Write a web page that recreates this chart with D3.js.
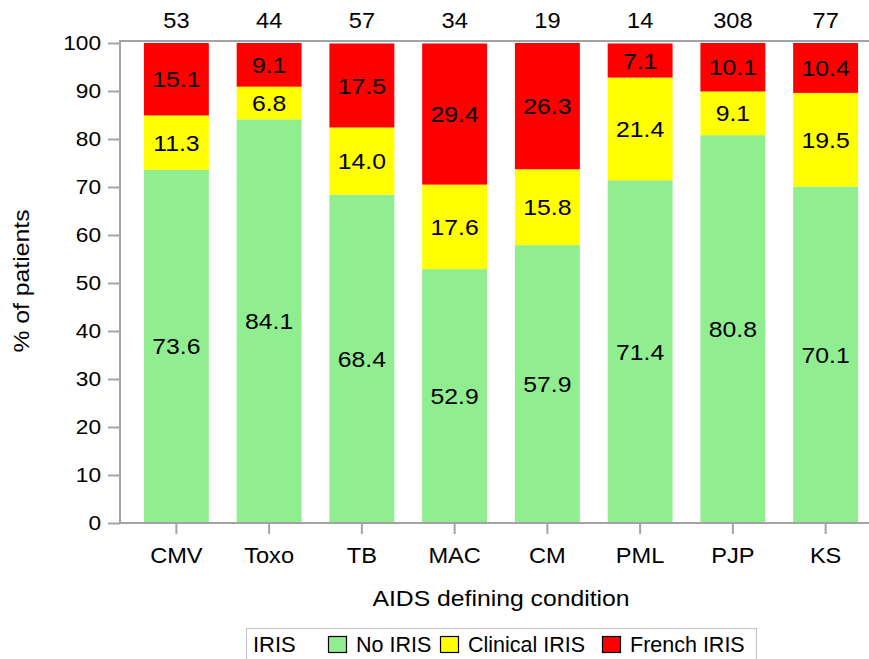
<!DOCTYPE html>
<meta charset="utf-8">
<style>
body { margin: 0; background: #fff; }
text { font-family: Arial, "Liberation Sans", sans-serif; fill: #000; }
</style>
<svg width="869" height="659"></svg>
<script src="https://d3js.org/d3.v7.min.js"></script>
<script>
// AIDS defining conditions, patient counts and IRIS percentages
var conditions = ["CMV", "Toxo", "TB", "MAC", "CM", "PML", "PJP", "KS"]
var patientCounts = [53, 44, 57, 34, 19, 14, 308, 77]
var noIris = [73.6, 84.1, 68.4, 52.9, 57.9, 71.4, 80.8, 70.1]
var clinicalIris = [11.3, 6.8, 14.0, 17.6, 15.8, 21.4, 9.1, 19.5]
var frenchIris = [15.1, 9.1, 17.5, 29.4, 26.3, 7.1, 10.1, 10.4]
var seriesNames = ["No IRIS", "Clinical IRIS", "French IRIS"]
var seriesColours = ["#90ee90", "#ffff00", "#ff0000"]
var yTicks = [0, 10, 20, 30, 40, 50, 60, 70, 80, 90, 100]

const svg = d3.select('svg')
const axisGrey = '#a3a3a3'
const fontStack = 'Arial, "Liberation Sans", sans-serif'

// the original font is a bit wider than Arial: widen glyphs around their anchor
function stretch(sel, sx, extra) {
	sel.each(function () {
		var t = d3.select(this)
		var tx = +t.attr('x') || 0
		var ty = +t.attr('y') || 0
		t.attr('x', 0).attr('y', 0)
		 .attr('transform', 'translate(' + tx + ',' + ty + ')' + (extra || '') + ' scale(' + sx + ',1)')
	})
}

const x = d3.scaleBand()
	.domain(conditions)
	.range([130, 872])
	.paddingInner(0.3)
	.paddingOuter(0.15)

const y = d3.scaleLinear()
	.domain([0, 100])
	.range([523, 43])

const rows = conditions.map((c, i) => ({
	cond: c,
	"No IRIS": noIris[i],
	"Clinical IRIS": clinicalIris[i],
	"French IRIS": frenchIris[i]
}))

const stacked = d3.stack().keys(seriesNames)(rows)

// frame (right side runs off the picture)
svg.append('path')
	.attr('d', 'M120,' + y(0) + 'V41H880')
	.attr('fill', 'none')
	.attr('stroke', axisGrey)
	.attr('stroke-width', 2)

var layers = svg.append('g')
	.selectAll('g')
	.data(stacked)
	.enter().append('g')
	.attr('fill', (d, i) => seriesColours[i])

layers.selectAll('rect')
	.data(d => d)
	.enter().append('rect')
	.attr('x', d => x(d.data.cond))
	.attr('width', x.bandwidth())
	.attr('y', d => y(d[1]))
	.attr('height', d => y(d[0]) - y(d[1]))

// segment value labels
var segLabels = layers.selectAll('text')
	.data(d => d.map(v => Object.assign({}, v, { key: d.key })))
	.enter().append('text')
	.attr('x', d => x(d.data.cond) + x.bandwidth() / 2)
	.attr('y', d => y((d[0] + d[1]) / 2))
	.attr('dy', '0.36em')
	.attr('text-anchor', 'middle')
	.attr('font-size', 22.5)
	.text(d => d.data[d.key].toFixed(1))
stretch(segLabels, 1.1)

// y axis
const yAxis = svg.append('g')
	.attr('transform', 'translate(120,0)')
	.call(d3.axisLeft(y).tickValues(yTicks).tickSize(12).tickPadding(7))
yAxis.select('.domain').remove()
yAxis.selectAll('line').attr('stroke', axisGrey).attr('stroke-width', 2)
yAxis.selectAll('text').attr('font-size', 21).attr('font-family', fontStack).attr('fill', '#000')
stretch(yAxis.selectAll('text'), 1.08)

// x axis
const xAxis = svg.append('g')
	.attr('transform', 'translate(0,' + y(0) + ')')
	.call(d3.axisBottom(x).tickSize(11).tickPadding(13).tickSizeOuter(0))
xAxis.select('.domain').attr('d', 'M120,0H880').attr('stroke', axisGrey).attr('stroke-width', 2)
xAxis.selectAll('line').attr('stroke', axisGrey).attr('stroke-width', 2)
xAxis.selectAll('text').attr('font-size', 22.5).attr('font-family', fontStack).attr('fill', '#000')
	.attr('dy', '0.72em')
stretch(xAxis.selectAll('text'), 1.05)

// patient counts above the frame
var counts = svg.append('g')
	.selectAll('text')
	.data(conditions)
	.enter().append('text')
	.attr('x', c => x(c) + x.bandwidth() / 2)
	.attr('y', 28)
	.attr('text-anchor', 'middle')
	.attr('font-size', 22.5)
	.text((c, i) => patientCounts[i])
stretch(counts, 1.05)

// axis titles
var yTitle = svg.append('text')
	.attr('x', 29)
	.attr('y', 281)
	.attr('text-anchor', 'middle')
	.attr('font-size', 22.5)
	.text('% of patients')
stretch(yTitle, 1.1, ' rotate(-90)')

var xTitle = svg.append('text')
	.attr('x', 501)
	.attr('y', 606)
	.attr('text-anchor', 'middle')
	.attr('font-size', 22.5)
	.text('AIDS defining condition')
stretch(xTitle, 1.1)

// legend
const legend = svg.append('g')
legend.append('rect')
	.attr('x', 246.5)
	.attr('y', 628.5)
	.attr('width', 510)
	.attr('height', 40)
	.attr('fill', 'none')
	.attr('stroke', '#c8c8c8')
	.attr('stroke-width', 1.2)
legend.append('text')
	.attr('x', 253)
	.attr('y', 652)
	.attr('font-size', 22)
	.text('IRIS')

var legendX = [328, 440, 602]
seriesNames.forEach((s, i) => {
	legend.append('rect')
		.attr('x', legendX[i] + 0.5)
		.attr('y', 636.5)
		.attr('width', 18)
		.attr('height', 16)
		.attr('fill', seriesColours[i])
		.attr('stroke', '#000')
		.attr('stroke-width', 1.2)
	legend.append('text')
		.attr('x', legendX[i] + 28)
		.attr('y', 652)
		.attr('font-size', 21.5)
		.text(s)
})
</script>
